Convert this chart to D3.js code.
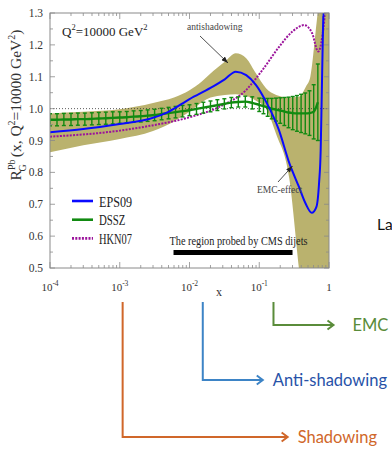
<!DOCTYPE html>
<html><head><meta charset="utf-8">
<script src="https://cdn.jsdelivr.net/npm/d3@7"></script>
<style>body{margin:0;background:#fff;} svg{display:block;}</style>
</head><body>
<svg id="c" width="392" height="450"></svg>
<script>
// ---- data ----
const eps09X = [1e-4, 3e-4, 1e-3, 2.7e-3, 5e-3, 0.01, 0.02, 0.032, 0.046, 0.065, 0.09, 0.125, 0.19, 0.27, 0.37, 0.46, 0.566, 0.66, 0.72, 0.76, 0.785, 0.82, 0.86];
const eps09R = [0.926, 0.936, 0.952, 0.968, 0.99, 1.03, 1.065, 1.092, 1.116, 1.105, 1.074, 1.022, 0.935, 0.829, 0.755, 0.703, 0.673, 0.692, 0.766, 0.87, 1.027, 1.25, 1.40];

const bandX  = [1e-4, 3e-4, 1e-3, 3e-3, 6e-3, 0.01, 0.015, 0.02, 0.025, 0.032, 0.046, 0.055, 0.065, 0.09, 0.125, 0.175, 0.27, 0.37, 0.47, 0.54, 0.64, 0.72, 0.8, 1.0];
const bandLo = [0.863, 0.885, 0.905, 0.93, 0.96, 0.99, 1.02, 1.035, 1.04, 1.043, 1.045, 1.043, 1.04, 1.025, 1.0, 0.92, 0.78, 0.50, 0.3, 0.3, 0.3, 0.3, 0.3, 0.3];
const bandHi = [0.985, 0.99, 0.998, 1.018, 1.035, 1.058, 1.085, 1.11, 1.128, 1.147, 1.174, 1.17, 1.158, 1.11, 1.064, 1.043, 1.035, 1.037, 1.07, 1.10, 1.237, 1.35, 1.5, 1.6];

const hknX = [1e-4, 1e-3, 2.7e-3, 0.01, 0.027, 0.0645, 0.111, 0.193, 0.296, 0.44, 0.572, 0.70, 0.80, 0.87, 0.92];
const hknR = [0.912, 0.931, 0.946, 0.973, 1.006, 1.058, 1.121, 1.194, 1.241, 1.262, 1.237, 1.179, 1.226, 1.30, 1.42];

const dsszX = [1e-4, 1.26e-4, 1.58e-4, 2e-4, 2.51e-4, 3.16e-4, 3.98e-4, 5.01e-4, 6.31e-4, 7.94e-4,
  1e-3, 1.26e-3, 1.58e-3, 2e-3, 2.51e-3, 3.16e-3, 3.98e-3, 5.01e-3, 6.31e-3, 7.94e-3,
  0.01, 0.0126, 0.0158, 0.02, 0.0251, 0.0316, 0.0398, 0.0501, 0.0631, 0.0794,
  0.1, 0.115, 0.132, 0.151, 0.174, 0.2, 0.229, 0.263, 0.302, 0.347, 0.398, 0.457, 0.525, 0.603, 0.692];
const dsszR = [0.965,0.965,0.966,0.966,0.967,0.967,0.968,0.969,0.970,0.971,
  0.972,0.973,0.975,0.976,0.978,0.980,0.983,0.986,0.989,0.992,
  0.995,0.999,1.003,1.007,1.011,1.015,1.019,1.021,1.022,1.018,
  1.012,1.008,1.004,1.000,0.997,0.994,0.991,0.988,0.986,0.985,
  0.985,0.985,0.986,0.990,1.020];
const dsszErr = [0.019,0.019,0.019,0.019,0.019,0.019,0.019,0.019,0.019,0.019,
  0.018,0.018,0.018,0.018,0.018,0.018,0.018,0.018,0.018,0.018,
  0.017,0.017,0.017,0.017,0.017,0.016,0.016,0.016,0.017,0.019,
  0.021,0.024,0.028,0.032,0.036,0.040,0.044,0.048,0.052,0.056,
  0.060,0.064,0.070,0.085,0.120];

const xMajor = [1e-4, 1e-3, 1e-2, 1e-1, 1];
const xMajorExp = ["-4", "-3", "-2", "-1", null];
const yMajor = [0.5, 0.6, 0.7, 0.8, 0.9, 1.0, 1.1, 1.2, 1.3];
const yMinor = [0.55, 0.65, 0.75, 0.85, 0.95, 1.05, 1.15, 1.25];
const cmsRange = [0.0059, 0.3];
const legendItems = [
  {name: "EPS09", color: "#0a0aff", dash: null},
  {name: "DSSZ", color: "#118a11", dash: null},
  {name: "HKN07", color: "#9b139b", dash: "2,1.3"}
];
const regions = [
  {name: "EMC", x: 0.16, len: 60, drop: 23, line: "#5a8c3a", text: "#5a8c3a"},
  {name: "Anti-shadowing", x: 0.0155, len: 60, drop: 78, line: "#3d84c6", text: "#2752a8"},
  {name: "Shadowing", x: 1.1e-3, len: 165, drop: 135, line: "#d0672a", text: "#d0672a"}
];

// ---- setup ----
const svg = d3.select("#c");
const L = 50, R = 329, T = 13, B = 268;
const x = d3.scaleLog().domain([1e-4, 1]).range([L, R]);
const y = d3.scaleLinear().domain([0.5, 1.3]).range([B, T]);
const serif = "'Liberation Serif','DejaVu Serif',serif";
const sans = "Lato,'Open Sans',sans-serif";

const defs = svg.append("defs");
defs.append("clipPath").attr("id", "clip").append("rect")
  .attr("x", L).attr("y", T).attr("width", R - L).attr("height", B - T);
defs.append("marker").attr("id", "ah").attr("viewBox", "0 0 8 6")
  .attr("refX", 8).attr("refY", 3).attr("markerWidth", 7).attr("markerHeight", 5)
  .attr("orient", "auto").attr("markerUnits", "userSpaceOnUse")
  .append("path").attr("d", "M0,0 L8,3 L0,6 z").attr("fill", "#222");

const plot = svg.append("g").attr("clip-path", "url(#clip)");

// band
const bandData = bandX.map((v, i) => ({x: v, lo: bandLo[i], hi: bandHi[i]}));
plot.append("path").datum(bandData)
  .attr("d", d3.area().x(d => x(d.x)).y0(d => y(d.lo)).y1(d => y(d.hi)).curve(d3.curveMonotoneX))
  .attr("fill", "#bab26e");

// dotted unity line
plot.append("line").attr("x1", L).attr("x2", R).attr("y1", y(1)).attr("y2", y(1))
  .attr("stroke", "#333").attr("stroke-width", 0.8).attr("stroke-dasharray", "1,2");

const line = d3.line().x(d => x(d[0])).y(d => y(d[1])).curve(d3.curveMonotoneX);

// HKN07
plot.append("path").datum(hknX.map((v, i) => [v, hknR[i]]))
  .attr("d", line).attr("fill", "none").attr("stroke", "#9b139b")
  .attr("stroke-width", 2).attr("stroke-dasharray", "2,1.3");

// DSSZ
const dssz = dsszX.map((v, i) => ({x: v, r: dsszR[i], e: dsszErr[i]}));
const eb = plot.append("g").attr("stroke", "#118a11").attr("stroke-width", 1.4);
eb.selectAll("line.v").data(dssz).join("line").attr("class", "v")
  .attr("x1", d => x(d.x)).attr("x2", d => x(d.x))
  .attr("y1", d => y(d.r - d.e)).attr("y2", d => y(d.r + d.e));
eb.selectAll("line.t").data(dssz).join("line").attr("class", "t")
  .attr("x1", d => x(d.x) - 2).attr("x2", d => x(d.x) + 2)
  .attr("y1", d => y(d.r + d.e)).attr("y2", d => y(d.r + d.e));
eb.selectAll("line.b").data(dssz).join("line").attr("class", "b")
  .attr("x1", d => x(d.x) - 2).attr("x2", d => x(d.x) + 2)
  .attr("y1", d => y(d.r - d.e)).attr("y2", d => y(d.r - d.e));
plot.append("path").datum(dssz.map(d => [d.x, d.r]))
  .attr("d", line).attr("fill", "none").attr("stroke", "#118a11").attr("stroke-width", 2.4);

// EPS09
plot.append("path").datum(eps09X.map((v, i) => [v, eps09R[i]]))
  .attr("d", line).attr("fill", "none").attr("stroke", "#0a0aff").attr("stroke-width", 2);

// frame
svg.append("rect").attr("x", L).attr("y", T).attr("width", R - L).attr("height", B - T)
  .attr("fill", "none").attr("stroke", "#8a8a8a").attr("stroke-width", 1);

// ticks
const tk = svg.append("g").attr("stroke", "#8a8a8a").attr("stroke-width", 0.8);
const xMinor = [];
for (let e = -4; e < 0; e++) for (let m = 2; m <= 9; m++) xMinor.push(m * Math.pow(10, e));
xMajor.forEach(v => {
  tk.append("line").attr("x1", x(v)).attr("x2", x(v)).attr("y1", B).attr("y2", B - 6);
  tk.append("line").attr("x1", x(v)).attr("x2", x(v)).attr("y1", T).attr("y2", T + 6);
});
xMinor.forEach(v => {
  tk.append("line").attr("x1", x(v)).attr("x2", x(v)).attr("y1", B).attr("y2", B - 3);
  tk.append("line").attr("x1", x(v)).attr("x2", x(v)).attr("y1", T).attr("y2", T + 3);
});
yMajor.forEach(v => {
  tk.append("line").attr("x1", L).attr("x2", L + 5).attr("y1", y(v)).attr("y2", y(v));
  tk.append("line").attr("x1", R).attr("x2", R - 5).attr("y1", y(v)).attr("y2", y(v));
});
yMinor.forEach(v => {
  tk.append("line").attr("x1", L).attr("x2", L + 3).attr("y1", y(v)).attr("y2", y(v));
  tk.append("line").attr("x1", R).attr("x2", R - 3).attr("y1", y(v)).attr("y2", y(v));
});

// tick labels
const tl = svg.append("g").attr("font-family", serif).attr("fill", "#333");
yMajor.forEach(v => {
  tl.append("text").attr("x", 43).attr("y", y(v) + 4).attr("text-anchor", "end")
    .attr("font-size", 11.5).text(v.toFixed(1));
});
xMajor.forEach((v, i) => {
  const t = tl.append("text").attr("x", x(v)).attr("y", 291).attr("text-anchor", "middle").attr("font-size", 11);
  if (xMajorExp[i]) {
    t.append("tspan").text("10");
    t.append("tspan").attr("dy", -5).attr("font-size", 7.5).text(xMajorExp[i]);
  } else t.text("1");
});
tl.append("text").attr("x", 219).attr("y", 296).attr("text-anchor", "middle").attr("font-size", 12).text("x");

// y label
const yl = svg.append("text").attr("font-family", serif).attr("font-size", 15.5).attr("fill", "#333")
  .attr("text-anchor", "middle").attr("transform", "translate(21,105) rotate(-90)");
yl.append("tspan").text("R");
yl.append("tspan").attr("font-size", 10).attr("dy", -6.5).text("Pb");
yl.append("tspan").attr("font-size", 10).attr("dx", -12).attr("dy", 11).text("G");
yl.append("tspan").attr("dx", 7).attr("dy", -4.5).text("(x, Q");
yl.append("tspan").attr("font-size", 10).attr("dy", -6.5).text("2");
yl.append("tspan").attr("dy", 6.5).text("=10000 GeV");
yl.append("tspan").attr("font-size", 10).attr("dy", -6.5).text("2");
yl.append("tspan").attr("dy", 6.5).text(")");

// Q2 label
const q = svg.append("text").attr("x", 62).attr("y", 36).attr("font-family", serif)
  .attr("font-size", 13).attr("fill", "#222");
q.append("tspan").text("Q");
q.append("tspan").attr("font-size", 8.5).attr("dy", -6).text("2");
q.append("tspan").attr("dy", 6).text("=10000 GeV");
q.append("tspan").attr("font-size", 8.5).attr("dy", -6).text("2");

// annotations
svg.append("text").attr("x", 187).attr("y", 30).attr("font-family", serif).attr("font-size", 9.5)
  .attr("fill", "#444").text("antishadowing");
svg.append("line").attr("x1", 200).attr("y1", 36).attr("x2", 228).attr("y2", 63)
  .attr("stroke", "#222").attr("stroke-width", 0.8).attr("marker-end", "url(#ah)");
svg.append("text").attr("x", 257).attr("y", 193).attr("font-family", serif).attr("font-size", 9.5)
  .attr("fill", "#444").text("EMC-effect");
svg.append("line").attr("x1", 278).attr("y1", 182).attr("x2", 292.5).attr("y2", 166)
  .attr("stroke", "#222").attr("stroke-width", 0.8).attr("marker-end", "url(#ah)");

// legend
const lg = svg.append("g");
legendItems.forEach((d, i) => {
  const yy = 201 + i * 18.7;
  lg.append("line").attr("x1", 72).attr("x2", 93).attr("y1", yy).attr("y2", yy)
    .attr("stroke", d.color).attr("stroke-width", 2.6).attr("stroke-dasharray", d.dash);
  lg.append("text").attr("x", 99).attr("y", yy + 5.5).attr("font-family", serif)
    .attr("font-size", 14).attr("fill", "#222").attr("textLength", d.name.length * 6.6)
    .attr("lengthAdjust", "spacingAndGlyphs").text(d.name);
});

// CMS region
svg.append("text").attr("x", 169.5).attr("y", 245).attr("font-family", serif).attr("font-size", 11.5)
  .attr("fill", "#222").attr("textLength", 138).attr("lengthAdjust", "spacingAndGlyphs")
  .text("The region probed by CMS dijets");
svg.append("rect").attr("x", x(cmsRange[0])).attr("width", x(cmsRange[1]) - x(cmsRange[0]))
  .attr("y", 250).attr("height", 5).attr("fill", "#000");

// bottom region arrows
const top0 = 302;
regions.forEach(d => {
  const x0 = x(d.x), yb = top0 + d.drop, x1 = x0 + d.len;
  svg.append("path").attr("d", `M${x0},${top0} L${x0},${yb} L${x1},${yb}`)
    .attr("fill", "none").attr("stroke", d.line).attr("stroke-width", 2);
  svg.append("path").attr("d", `M${x1 - 6},${yb - 4.5} L${x1},${yb} L${x1 - 6},${yb + 4.5}`)
    .attr("fill", "none").attr("stroke", d.line).attr("stroke-width", 2);
  svg.append("text").attr("x", x1 + (d.name === "EMC" ? 19 : 10)).attr("y", yb + 6)
    .attr("font-family", sans).attr("font-size", 16.5).attr("fill", d.text).text(d.name);
});

// side text (cut by the page edge in the original)
svg.append("text").attr("x", 377).attr("y", 230).attr("font-family", sans)
  .attr("font-size", 15.5).attr("fill", "#111").text("La");
</script>
</body></html>
